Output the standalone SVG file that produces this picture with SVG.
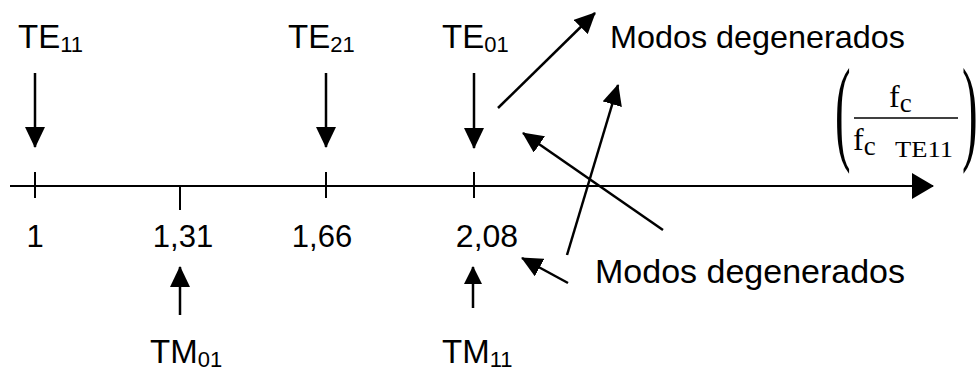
<svg xmlns="http://www.w3.org/2000/svg" width="979" height="373" viewBox="0 0 979 373">
<style>
.t{font-family:"Liberation Sans",Arial,sans-serif;fill:#000}
.s{font-family:"Liberation Serif","Times New Roman",serif;fill:#000}
.c{stroke:#000;stroke-width:2.5;fill:none}
.tick{stroke:#000;stroke-width:2;fill:none}
</style>
<defs>
<marker id="ah" viewBox="0 0 21 20" refX="20" refY="10" markerWidth="21" markerHeight="20" markerUnits="userSpaceOnUse" orient="auto">
<path d="M0,0 L21,10 L0,20 z" fill="#000"/>
</marker>
<marker id="ahs" viewBox="0 0 18 18" refX="17" refY="9" markerWidth="18" markerHeight="18" markerUnits="userSpaceOnUse" orient="auto">
<path d="M0,0 L18,9 L0,18 z" fill="#000"/>
</marker>
<marker id="axh" viewBox="0 0 22 26" refX="21" refY="13" markerWidth="22" markerHeight="26" markerUnits="userSpaceOnUse" orient="auto">
<path d="M0,0 L22,13 L0,26 z" fill="#000"/>
</marker>
</defs>

<g id="connectors">
<line id="axis" class="tick" x1="10" y1="186" x2="933" y2="186" marker-end="url(#axh)"/>
<line class="tick" x1="35" y1="172" x2="35" y2="198"/>
<line class="tick" x1="180" y1="186" x2="180" y2="210"/>
<line class="tick" x1="326" y1="172" x2="326" y2="198"/>
<line class="tick" x1="474" y1="172" x2="474" y2="198"/>
<line class="c" x1="35" y1="73" x2="35" y2="147" marker-end="url(#ah)"/>
<line class="c" x1="326" y1="73" x2="326" y2="147" marker-end="url(#ah)"/>
<line class="c" x1="474" y1="73" x2="474" y2="148" marker-end="url(#ah)"/>
<line class="c" x1="180" y1="315" x2="180" y2="267" marker-end="url(#ah)"/>
<line class="c" x1="473" y1="308" x2="473" y2="267" marker-end="url(#ahs)"/>
<line class="c" x1="498" y1="108" x2="595" y2="13" marker-end="url(#ah)"/>
<line class="c" x1="567" y1="255" x2="618" y2="85" marker-end="url(#ah)"/>
<line class="c" x1="663" y1="230" x2="523" y2="133" marker-end="url(#ah)"/>
<line class="c" x1="568" y1="283" x2="522" y2="258" marker-end="url(#ah)"/>
</g>

<g id="te11"><text class="t" x="18" y="48" font-size="33">TE<tspan font-size="22" dy="4">11</tspan></text></g>
<g id="te21"><text class="t" x="288" y="48" font-size="33">TE<tspan font-size="22" dy="4">21</tspan></text></g>
<g id="te01"><text class="t" x="442" y="48" font-size="33">TE<tspan font-size="22" dy="4">01</tspan></text></g>
<g id="modos-top"><text class="t" x="610" y="48" font-size="32" textLength="295" lengthAdjust="spacingAndGlyphs">Modos degenerados</text></g>

<g id="labels-axis">
<text class="t" x="35" y="247" font-size="31" text-anchor="middle">1</text>
<text class="t" x="183" y="247" font-size="31" text-anchor="middle">1,31</text>
<text class="t" x="322" y="247" font-size="31" text-anchor="middle">1,66</text>
<text class="t" x="487" y="247" font-size="32" text-anchor="middle">2,08</text>
</g>

<g id="modos-bottom"><text class="t" x="595" y="283" font-size="33" textLength="310" lengthAdjust="spacingAndGlyphs">Modos degenerados</text></g>
<g id="tm01"><text class="t" x="150" y="363" font-size="33">TM<tspan font-size="22" dy="4">01</tspan></text></g>
<g id="tm11"><text class="t" x="442" y="363" font-size="33">TM<tspan font-size="22" dy="4">11</tspan></text></g>

<g id="axis-label">
<text class="s" transform="translate(835,149) scale(0.4,1)" font-size="117">(</text>
<text class="s" transform="translate(962,149) scale(0.4,1)" font-size="117">)</text>
<text class="s" x="889" y="107" font-size="32">f<tspan font-size="27" dy="5">c</tspan></text>
<line x1="854" y1="118" x2="958" y2="118" stroke="#000" stroke-width="1.5"/>
<text class="s" x="853" y="150" font-size="32">f<tspan font-size="27" dy="5">c</tspan><tspan font-size="24" x="895" y="157" textLength="58" lengthAdjust="spacingAndGlyphs">TE11</tspan></text>
</g>
</svg>
